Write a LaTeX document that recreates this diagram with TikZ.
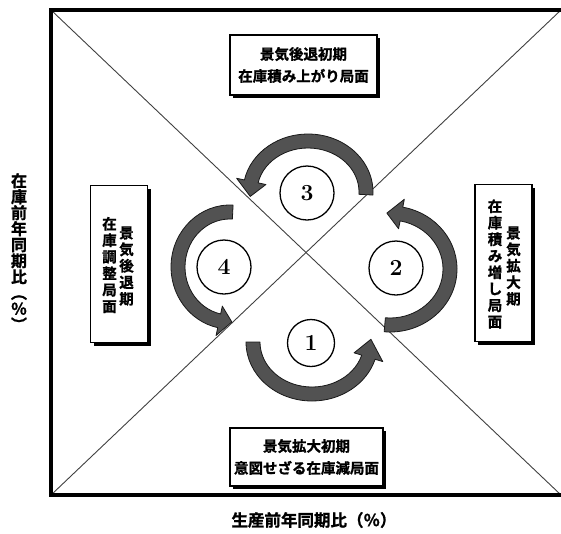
\documentclass[tikz,border=0pt]{standalone}
\usepackage{fontspec}
\usepackage{graphicx}
\usepackage{tikz}
\usetikzlibrary{shadows}
\newfontfamily\jpfont{Noto Sans CJK JP}[BoldFont={Noto Sans CJK JP Bold}, BoldFeatures={FakeBold=1.2}]
\tikzset{
  frameline/.style={line width=3.5pt, line join=miter},
  diagline/.style={line width=0.9pt, black!75},
  boxshadow/.style={drop shadow={shadow xshift=3pt, shadow yshift=-3pt, fill=black, opacity=1}},
  hbox/.style={rectangle, draw=black, line width=1.2pt, fill=white, boxshadow,
    align=center, inner sep=0pt, font=\jpfont\bfseries\fontsize{14.5}{22}\selectfont},
  vbox/.style={rectangle, draw=black, line width=1.2pt, fill=white, boxshadow,
    minimum width=57pt, minimum height=157pt},
  vtext/.style={align=center, inner sep=0pt, font=\jpfont\bfseries\fontsize{14.5}{16.5}\selectfont},
  numcircle/.style={circle, draw=black, line width=1.3pt, fill=white, minimum size=54pt,
    inner sep=0pt, font=\bfseries\fontsize{23}{23}\selectfont},
  axislabel/.style={inner sep=0pt, align=center, font=\jpfont\bfseries\fontsize{16}{16}\selectfont},
  cyclearrow/.style={fill=black!68, draw=black!90, line width=0.8pt, line join=round}
}
% centre, x radius, y radius, tail angle, head base angle, tip angle
\newcommand{\turnarrow}[6]{%
  \pgfmathsetmacro{\oxr}{#2+7}\pgfmathsetmacro{\oyr}{#3+7}%
  \pgfmathsetmacro{\ixr}{#2-7}\pgfmathsetmacro{\iyr}{#3-7}%
  \pgfmathsetmacro{\hoxr}{#2+15}\pgfmathsetmacro{\hoyr}{#3+15}%
  \pgfmathsetmacro{\hixr}{#2-15}\pgfmathsetmacro{\hiyr}{#3-15}%
  \filldraw[cyclearrow, shift={#1}] (#4:{\oxr} and {\oyr})
    arc[start angle=#4, end angle=#5, x radius=\oxr, y radius=\oyr]
    -- (#5:{\hoxr} and {\hoyr}) -- (#6:#2 and #3) -- (#5:{\hixr} and {\hiyr})
    -- (#5:{\ixr} and {\iyr})
    arc[start angle=#5, end angle=#4, x radius=\ixr, y radius=\iyr] -- cycle;}

\begin{document}
\begin{tikzpicture}[x=1pt, y=-1pt]
  \useasboundingbox (0,0) rectangle (561,533);
  \coordinate (tl) at (51,10);
  \coordinate (tr) at (561,10);
  \coordinate (bl) at (51,495);
  \coordinate (br) at (561,495);
  \draw[diagline] (tl) -- (br);
  \draw[diagline] (bl) -- (tr);
  \draw[frameline] (tr) -- (tl) -- (bl) -- (br);

  \node[hbox, minimum width=147pt, minimum height=60pt] (lateturn) at (303.5,65) {景気後退初期\\在庫積み上がり局面};
  \node[hbox, minimum width=153pt, minimum height=58pt] (earlyrise) at (306.5,457) {景気拡大初期\\意図せざる在庫減局面};
  \node[vbox] (recess) at (119,264) {};
  \node[vtext] (recessmain) at (109.5,265) {在\\庫\\調\\整\\局\\面};
  \node[vtext] (recesssub) at (126.5,266) {景\\気\\後\\退\\期};
  \node[vbox] (boom) at (503.5,263) {};
  \node[vtext] (boommain) at (495,264) {在\\庫\\積\\み\\増\\し\\局\\面};
  \node[vtext] (boomsub) at (513.5,266) {景\\気\\拡\\大\\期};

  \turnarrow{(312,342)}{59}{52}{180}{17}{-3}
  \turnarrow{(390,269)}{60}{56}{95}{-79}{-93}
  \turnarrow{(308,192)}{58}{51}{3}{-168}{-185}
  \turnarrow{(230,267)}{52}{55}{-87}{-258}{-272}

  \node[numcircle, minimum size=47pt] (phase1) at (311,343) {1};
  \node[numcircle] (phase2) at (396,268) {2};
  \node[numcircle] (phase3) at (307,193) {3};
  \node[numcircle] (phase4) at (224,267) {4};

  \node[axislabel] (stockaxis) at (19,252) {在\\庫\\前\\年\\同\\期\\比\\︵\\％\\︶};
  \node[axislabel, font=\jpfont\bfseries\fontsize{16.5}{16.5}\selectfont] (outputaxis) at (314,520) {生産前年同期比（％）};
\end{tikzpicture}
\end{document}
